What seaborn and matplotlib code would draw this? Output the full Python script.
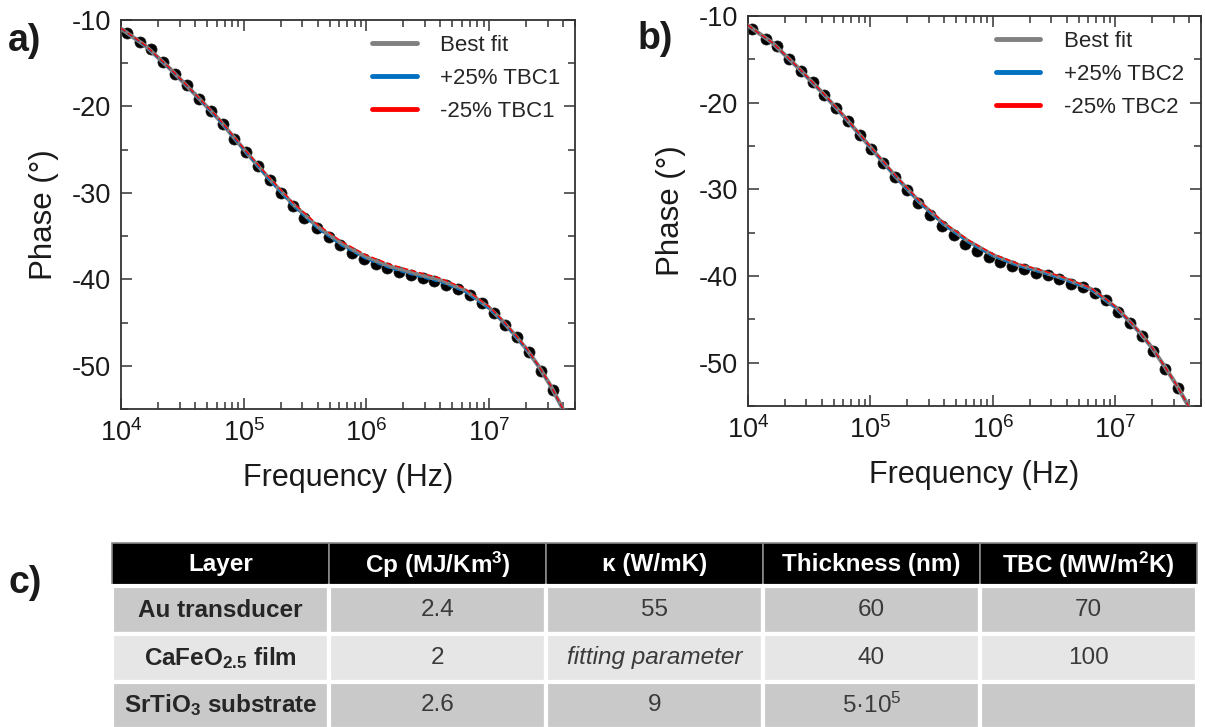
import numpy as np
import pandas as pd
import matplotlib
matplotlib.use("Agg")
import matplotlib.pyplot as plt
from matplotlib.lines import Line2D
from matplotlib.ticker import LogLocator, MultipleLocator, NullFormatter
import seaborn as sns

# ---------------- data ----------------
# panel a: measured phase
freq_a = [1.126e4, 1.422e4, 1.758e4, 2.218e4, 2.761e4, 3.443e4, 4.285e4, 5.408e4, 6.730e4, 8.375e4,
          1.045e5, 1.300e5, 1.629e5, 2.028e5, 2.529e5, 3.126e5, 3.917e5, 4.909e5, 6.081e5, 7.621e5,
          9.484e5, 1.189e6, 1.483e6, 1.845e6, 2.296e6, 2.877e6, 3.565e6, 4.467e6, 5.598e6, 6.966e6,
          8.730e6, 1.089e7, 1.355e7, 1.687e7, 2.113e7, 2.649e7, 3.304e7]
phase_a = [-11.45, -12.53, -13.41, -14.91, -16.22, -17.56, -19.10, -20.52, -22.05, -23.71,
           -25.32, -26.94, -28.47, -30.00, -31.46, -32.88, -34.08, -35.15, -36.07, -36.99,
           -37.68, -38.26, -38.72, -39.15, -39.53, -39.84, -40.25, -40.68, -41.14, -41.83,
           -42.79, -43.91, -45.25, -46.71, -48.43, -50.55, -52.78]

# panel b: measured phase
freq_b = [1.081e4, 1.390e4, 1.730e4, 2.153e4, 2.685e4, 3.365e4, 4.188e4, 5.212e4, 6.531e4, 8.185e4,
          1.019e5, 1.271e5, 1.578e5, 1.977e5, 2.466e5, 3.069e5, 3.819e5, 4.786e5, 5.970e5, 7.430e5,
          9.247e5, 1.151e6, 1.442e6, 1.799e6, 2.254e6, 2.799e6, 3.491e6, 4.375e6, 5.483e6, 6.823e6,
          8.395e6, 1.045e7, 1.324e7, 1.652e7, 2.042e7, 2.559e7, 3.228e7]
phase_b = [-11.53, -12.60, -13.41, -14.99, -16.29, -17.67, -19.14, -20.60, -22.13, -23.78,
           -25.39, -27.00, -28.55, -30.08, -31.54, -32.96, -34.19, -35.26, -36.34, -37.11,
           -37.83, -38.41, -38.84, -39.22, -39.61, -39.91, -40.33, -40.91, -41.29, -41.91,
           -42.81, -44.10, -45.37, -46.87, -48.63, -50.70, -52.93]

# model curves (frequency grid shared by all model curves)
fit_freq = [1.000e4, 1.585e4, 2.512e4, 3.981e4, 6.310e4, 1.000e5, 1.585e5, 2.512e5, 3.981e5, 6.310e5,
            1.000e6, 1.585e6, 2.512e6, 3.981e6, 6.310e6, 1.000e7, 1.259e7, 1.585e7, 1.995e7, 2.512e7,
            3.162e7, 3.981e7, 5.012e7]
best_a = [-11.00, -13.00, -15.65, -18.55, -21.55, -24.95, -28.25, -31.30, -33.90, -35.90,
          -37.45, -38.55, -39.35, -40.10, -41.25, -43.30, -44.70, -46.30, -48.00, -50.00,
          -52.30, -55.00, -58.00]
plus_a = [-11.00, -13.05, -15.70, -18.60, -21.65, -25.05, -28.40, -31.50, -34.15, -36.15,
          -37.70, -38.80, -39.60, -40.35, -41.45, -43.45, -44.80, -46.40, -48.10, -50.05,
          -52.35, -55.05, -58.00]
minus_a = [-10.95, -12.95, -15.60, -18.50, -21.45, -24.85, -28.10, -31.10, -33.65, -35.65,
           -37.20, -38.30, -39.10, -39.85, -41.05, -43.15, -44.60, -46.20, -47.90, -49.95,
           -52.25, -54.95, -58.00]
best_b = [-11.10, -13.10, -15.85, -18.75, -21.85, -25.15, -28.45, -31.45, -34.00, -36.00,
          -37.60, -38.70, -39.50, -40.40, -41.50, -43.60, -45.00, -46.55, -48.30, -50.40,
          -52.60, -55.10, -58.00]
plus_b = [-11.10, -13.12, -15.90, -18.80, -21.92, -25.22, -28.55, -31.58, -34.15, -36.15,
          -37.75, -38.85, -39.65, -40.55, -41.62, -43.70, -45.05, -46.60, -48.35, -50.42,
          -52.62, -55.12, -58.00]
minus_b = [-11.08, -13.08, -15.80, -18.70, -21.78, -25.08, -28.35, -31.32, -33.85, -35.85,
           -37.45, -38.55, -39.35, -40.25, -41.38, -43.50, -44.95, -46.50, -48.25, -50.38,
           -52.58, -55.08, -58.00]

labels_a = ["Best fit", "+25% TBC1", "-25% TBC1"]
labels_b = ["Best fit", "+25% TBC2", "-25% TBC2"]

# table contents
table_header = ["Layer", "Cp (MJ/Km$^\\mathbf{3}$)", "\u03ba (W/mK)", "Thickness (nm)",
                "TBC (MW/m$^\\mathbf{2}$K)"]
table_layers = ["Au transducer", "CaFeO$_\\mathbf{2.5}$ film", "SrTiO$_\\mathbf{3}$ substrate"]
table_cp = ["2.4", "2", "2.6"]
table_kappa = ["55", "fitting parameter", "9"]
table_thickness = ["60", "40", "5\u00b710$^5$"]
table_tbc = ["70", "100", ""]

# ---------------- style ----------------
sns.set_theme(style="ticks")
plt.rcParams["font.family"] = ["Liberation Sans", "DejaVu Sans"]
plt.rcParams["mathtext.fontset"] = "custom"
plt.rcParams["mathtext.rm"] = "Liberation Sans"
plt.rcParams["mathtext.it"] = "Liberation Sans:italic"
plt.rcParams["mathtext.bf"] = "Liberation Sans:bold"
plt.rcParams["axes.unicode_minus"] = False

GREY = "#808080"
BLUE = "#0070C0"
RED = "#FF0000"
SPINE = "#333333"
TXT = "#1a1a1a"

fig = plt.figure(figsize=(12.05, 7.27), dpi=100)
W, H = 1205, 727


def px_axes(l, t, r, b):
    return fig.add_axes([l / W, 1 - b / H, (r - l) / W, (b - t) / H])


def draw_panel(ax, freq, phase, best, plus, minus, labels, leg_x):
    ax.set_xscale("log")
    dfm = pd.DataFrame({"f": freq, "p": phase})
    sns.scatterplot(data=dfm, x="f", y="p", ax=ax, color="black", s=64,
                    edgecolor="#222222", linewidth=0.5, zorder=2, legend=False)
    dff = pd.DataFrame({"f": fit_freq, "best": best, "plus": plus, "minus": minus})
    sns.lineplot(data=dff, x="f", y="best", ax=ax, color=GREY, lw=3.0,
                 sort=False, estimator=None, zorder=3)
    sns.lineplot(data=dff, x="f", y="plus", ax=ax, color=BLUE, lw=1.0,
                 sort=False, estimator=None, zorder=4, linestyle=(0, (4, 2)))
    sns.lineplot(data=dff, x="f", y="minus", ax=ax, color=RED, lw=1.0,
                 sort=False, estimator=None, zorder=5, linestyle=(0, (4, 2)))
    ax.set_xlim(1e4, 5e7)
    ax.set_ylim(-55, -10)
    ax.yaxis.set_major_locator(MultipleLocator(10))
    ax.yaxis.set_minor_locator(MultipleLocator(5))
    ax.xaxis.set_major_locator(LogLocator(base=10, numticks=10))
    ax.xaxis.set_minor_locator(LogLocator(base=10, subs=np.arange(2, 10), numticks=10))
    ax.xaxis.set_minor_formatter(NullFormatter())
    ax.tick_params(which="both", direction="in", top=True, right=True, colors=SPINE,
                   labelcolor=TXT, labelsize=19.5, width=1.1)
    ax.tick_params(which="major", length=8, pad=7)
    ax.tick_params(which="minor", length=5)
    for sp in ax.spines.values():
        sp.set_color(SPINE)
        sp.set_linewidth(1.3)
    ax.set_xlabel("Frequency (Hz)", fontsize=22, color=TXT, labelpad=12)
    ax.set_ylabel("Phase (\u00b0)", fontsize=22.5, color=TXT, labelpad=9)
    handles = [Line2D([], [], color=GREY, lw=3.5),
               Line2D([], [], color=BLUE, lw=3.5),
               Line2D([], [], color=RED, lw=3.5)]
    ax.legend(handles, labels, loc="upper left", bbox_to_anchor=(leg_x, 0.962),
              frameon=False, fontsize=16, handlelength=2.0, handletextpad=1.05,
              labelspacing=0.55, borderpad=0, borderaxespad=0)


ax_a = px_axes(121, 20, 575, 409)
draw_panel(ax_a, freq_a, phase_a, best_a, plus_a, minus_a, labels_a, 0.553)
ax_b = px_axes(748, 16, 1201, 406)
draw_panel(ax_b, freq_b, phase_b, best_b, plus_b, minus_b, labels_b, 0.547)

fig.text(8 / W, 1 - 41 / H, "a)", fontsize=27, fontweight="bold", va="center", ha="left", color=TXT)
fig.text(638 / W, 1 - 39 / H, "b)", fontsize=27, fontweight="bold", va="center", ha="left", color=TXT)
fig.text(8 / W, 1 - 583 / H, "c)", fontsize=27, fontweight="bold", va="center", ha="left", color=TXT)

# ---------------- table ----------------
ax_t = px_axes(112, 543, 1197, 729)
ax_t.axis("off")
body = [list(r) for r in zip(table_layers, table_cp, table_kappa, table_thickness, table_tbc)]
tab = ax_t.table(cellText=body, colLabels=table_header, cellLoc="center",
                 bbox=[0, 0, 1, 1])
tab.auto_set_font_size(False)
row_h = [43.4, 47.5, 47.7, 47.4]
for (r, c), cell in tab.get_celld().items():
    cell.set_height(row_h[r])
    cell.set_width(1.0)
    txt = cell.get_text()
    txt.set_fontsize(17.5)
    if r == 0:
        cell.set_facecolor("black")
        cell.set_edgecolor("#8a8a8a")
        cell.set_linewidth(1.2)
        txt.set_color("white")
        txt.set_fontweight("bold")
    else:
        cell.set_facecolor("#E6E6E6" if r == 2 else "#C9C9C9")
        cell.set_edgecolor("white")
        cell.set_linewidth(3.0)
        txt.set_color("#3a3a3a")
        if c == 0:
            txt.set_fontweight("bold")
            txt.set_color("#262626")
        if r == 2 and c == 2:
            txt.set_fontstyle("italic")

fig.savefig("out.png", dpi=100)
